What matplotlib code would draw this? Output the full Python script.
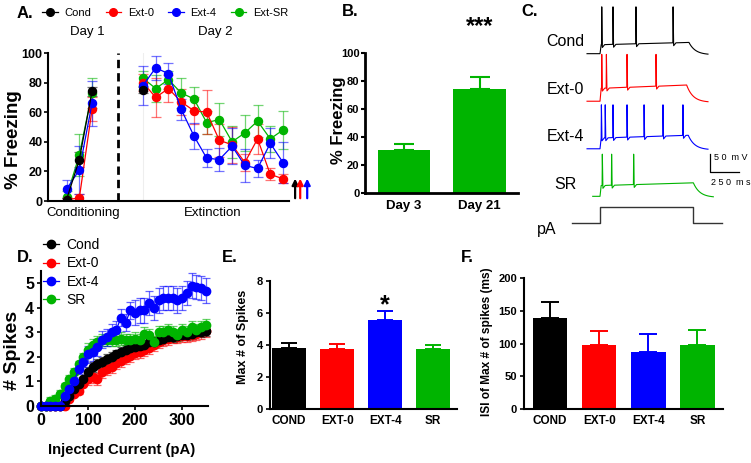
import numpy as np
import matplotlib as mp
mp.use('Agg')
import matplotlib.pyplot as plt
from matplotlib.lines import Line2D

plt.rcParams['font.family'] = ['Liberation Sans', 'DejaVu Sans']

W, H = 751, 463

groups = ['Cond', 'Ext-0', 'Ext-4', 'Ext-SR']
colors = ['black', '#ff0000', '#0000ff', '#00b400']

# ---- A: % freezing per trial
cond_trials = [1, 2, 3]
ext_trials = list(range(7, 19))
cond_vals = [[1, 28, 74], [1, 2, 62], [8, 21, 66], [3, 31, 73]]
cond_errs = [[1, 5, 3], [1, 3, 8], [6, 16, 15], [4, 14, 10]]
ext_vals = [[75],
            [80, 70, 76, 67, 61, 60, 41, 38, 26, 42, 18, 15],
            [78, 90, 86, 62, 44, 29, 28, 37, 24, 22, 39, 26],
            [83, 76, 82, 73, 69, 53, 55, 40, 46, 54, 42, 48]]
ext_errs = [[2],
            [6, 13, 9, 9, 9, 15, 11, 12, 6, 10, 4, 3],
            [13, 8, 7, 7, 9, 6, 8, 12, 11, 6, 10, 14],
            [5, 9, 6, 10, 8, 8, 11, 11, 12, 11, 9, 13]]

# ---- B: spontaneous recovery
b_days = ['Day 3', 'Day 21']
b_vals = [31, 74]
b_errs = [4, 9]

# ---- C: example traces (spike times in ms after step onset)
c_names = ['Cond', 'Ext-0', 'Ext-4', 'SR']
c_spikes = [[15, 112, 310, 630], [15, 55, 233, 483],
            [12, 45, 112, 233, 380, 543, 715], [20, 100, 290]]
c_plateau = [25, 36, 30, 30]
c_peak = [130, 130, 122, 117]
c_start = [-112, -112, -112, -63]
c_off = [767, 747, 761, 805]
c_stop = [931, 931, 931, 977]
pa_times = [-241, 0, 0, 805, 805, 1052]
pa_level = [0, 0, 1, 1, 0, 0]

# ---- D: spikes vs injected current
current = list(range(0, 360, 10))
d_names = ['Cond', 'Ext-0', 'Ext-4', 'SR']
d_cond = [0, 0, 0, 0, 0, 0.2, 0.4, 0.7, 0.9, 1.1, 1.4, 1.6, 1.7, 1.8, 1.9, 2.0, 2.1, 2.2,
          2.3, 2.35, 2.4, 2.45, 2.5, 2.6, 2.6, 2.7, 2.75, 2.8, 2.8, 2.85, 2.9, 2.9, 2.95, 3.0, 3.0, 3.05]
d_ext0 = [0, 0, 0, 0, 0, 0, 0.3, 0.5, 0.6, 0.9, 1.1, 1.2, 1.1, 1.4, 1.5, 1.6, 1.75, 1.85,
          1.95, 2.05, 2.15, 2.2, 2.3, 2.35, 2.5, 2.6, 2.7, 2.75, 2.8, 2.8, 2.85, 2.85, 2.9, 2.95, 3.0, 3.05]
d_ext4 = [0, 0, 0, 0, 0, 0.4, 0.7, 1.0, 1.5, 1.8, 2.1, 2.2, 2.4, 2.7, 2.8, 3.0, 3.1, 3.6,
          3.4, 3.9, 3.8, 3.9, 3.9, 4.2, 4.0, 4.3, 4.4, 4.4, 4.4, 4.3, 4.4, 4.6, 4.9, 4.85, 4.8, 4.7]
d_sr = [0, 0, 0.2, 0.3, 0.5, 0.8, 1.1, 1.4, 1.7, 2.0, 2.3, 2.5, 2.6, 2.7, 2.7, 2.7, 2.7, 2.75,
        2.7, 2.7, 2.75, 2.7, 2.95, 2.9, 2.6, 3.0, 3.0, 3.1, 3.0, 2.9, 3.1, 3.0, 3.2, 3.1, 3.2, 3.3]
d_cond_err = [0] * 5 + [0.1] * 5 + [0.2] * 26
d_ext0_err = [0] * 5 + [0.1] * 5 + [0.25] * 26
d_ext4_err = [0] * 5 + [0.2] * 5 + [0.35] * 10 + [0.5] * 16
d_sr_err = [0] * 2 + [0.15] * 8 + [0.25] * 26

# ---- E / F: max spikes and ISI
ef_labels = ['COND', 'EXT-0', 'EXT-4', 'SR']
e_vals = [3.8, 3.73, 5.56, 3.73]
e_errs = [0.33, 0.32, 0.55, 0.3]
f_vals = [139, 97, 87, 97]
f_errs = [25, 22, 27, 24]


fig = plt.figure(figsize=(7.51, 4.63), dpi=100)


def rect(l, t, r, b):
    return [l / W, 1 - b / H, (r - l) / W, (b - t) / H]


def ftext(x, y, s, **kw):
    kw.setdefault('ha', 'center')
    kw.setdefault('va', 'center')
    fig.text(x / W, 1 - y / H, s, **kw)


def bold_ticks(ax):
    for lab in ax.get_xticklabels() + ax.get_yticklabels():
        lab.set_fontweight('bold')


def style(ax, lw=1.5):
    ax.spines['top'].set_visible(False)
    ax.spines['right'].set_visible(False)
    ax.spines['left'].set_linewidth(lw)
    ax.spines['bottom'].set_linewidth(lw)


def light(eb, a=0.55):
    for art in list(eb[1]) + list(eb[2]):
        art.set_alpha(a)


# ================= A
axA = fig.add_axes(rect(48, 53, 289, 201))
style(axA)
axA.axvline(ext_trials[0], color='#eeeeee', lw=0.8, zorder=0)
for i in [3, 1, 2, 0]:
    c = colors[i]
    eb = axA.errorbar(cond_trials, cond_vals[i], yerr=cond_errs[i], color=c, marker='o',
                      ms=5.8, lw=0.9, elinewidth=0.9, capsize=3.6, capthick=0.9)
    light(eb)
    xs = ext_trials[:len(ext_vals[i])]
    eb = axA.errorbar(xs, ext_vals[i], yerr=ext_errs[i], color=c, marker='o',
                      ms=5.8, lw=0.9, elinewidth=0.9, capsize=3.6, capthick=0.9)
    light(eb)
mid = (cond_trials[-1] + ext_trials[0]) / 2
axA.plot([mid, mid], [0, 100], color='black', lw=2, dashes=(3, 1.8))
for k, (dx, c) in enumerate(zip([0.95, 1.35, 1.9], ['black', '#ff0000', '#0000ff'])):
    x = ext_trials[-1] + dx
    axA.annotate('', xy=(x, 17), xytext=(x, 0), annotation_clip=False,
                 arrowprops=dict(arrowstyle='-|>', color=c, lw=1.6, mutation_scale=9))
axA.set_xlim(-0.46, 18.47)
axA.set_ylim(0, 100)
axA.set_xticks([])
axA.set_yticks([0, 20, 40, 60, 80, 100])
axA.tick_params(axis='y', labelsize=9, length=3, width=1.2, pad=1)
bold_ticks(axA)
ftext(14, 140, '% Freezing', rotation=90, fontsize=13.5, fontweight='bold')
ftext(87, 32, 'Day 1', fontsize=9.5)
ftext(215, 32, 'Day 2', fontsize=9.5)
ftext(83, 213, 'Conditioning', fontsize=9.5)
ftext(213, 213, 'Extinction', fontsize=9.5)
ftext(25, 13, 'A.', fontsize=12, fontweight='bold')
hA = [Line2D([0], [0], color=c, marker='o', ms=5.5, lw=0.9) for c in colors]
fig.legend(hA, groups, loc='center left', bbox_to_anchor=(42 / W, 1 - 13 / H),
           ncol=4, frameon=False, fontsize=8, handlelength=1.4, handletextpad=0.6,
           columnspacing=1.3, borderpad=0, borderaxespad=0)

# ================= B
green = colors[3]
axB = fig.add_axes(rect(365, 53, 518, 193))
style(axB, 2)
axB.bar([0, 1], b_vals, width=0.69, color=green, yerr=[[0, 0], b_errs],
        error_kw=dict(ecolor=green, capsize=7.2, elinewidth=1.5, capthick=1.5))
axB.set_xlim(-0.517, 1.51)
axB.set_ylim(0, 100)
axB.set_xticks([0, 1])
axB.set_xticklabels(b_days, fontsize=9.5)
axB.set_yticks([0, 20, 40, 60, 80, 100])
axB.tick_params(axis='y', labelsize=8, length=3, width=1.5, pad=1)
axB.tick_params(axis='x', length=0, pad=5)
bold_ticks(axB)
axB.text(1, 119, '***', ha='center', va='center', fontsize=17, fontweight='bold', clip_on=False)
ftext(338, 120, '% Freezing', rotation=90, fontsize=12, fontweight='bold')
ftext(350, 12, 'B.', fontsize=12, fontweight='bold')

# ================= C
axC = fig.add_axes(rect(520, 0, 751, 250))
axC.set_axis_off()
axC.set_xlim(-690, 1302)
axC.set_ylim(0, 694)


def make_trace(spikes, plat, peak, t_start, t_off, t_stop):
    t = [t_start, 0, 10]
    v = [0, 0, plat]
    for s in spikes:
        p = plat * (1 + 0.25 * s / t_off)
        t += [s - 2, s, s + 5, s + 25]
        v += [p, peak, p - 8, p]
    pe = plat * 1.25
    t.append(t_off)
    v.append(pe)
    td = np.linspace(t_off, t_stop, 40)
    t += list(td)
    v += list(pe * np.exp(-(td - t_off) / 55) - 3 * (1 - np.exp(-(td - t_off) / 55)))
    return np.array(t), np.array(v)


c_cols = ['black', '#ff0000', '#0000ff', '#00b400']
for i, name in enumerate(c_names):
    base = 545 - 132 * i
    t, v = make_trace(c_spikes[i], c_plateau[i], c_peak[i], c_start[i], c_off[i], c_stop[i])
    axC.plot(t, base + v, color=c_cols[i], lw=0.8)
    axC.text(-300, base + 33, name, ha='center', va='center', fontsize=11.5)
axC.plot(pa_times, 75 + 45 * np.array(pa_level), color='#333333', lw=1)
axC.text(-457, 56, 'pA', ha='center', va='center', fontsize=11.5)
axC.plot([948, 948, 1198], [267, 217, 217], color='black', lw=0.9)
axC.text(985, 256, '5 0  m V', ha='left', va='center', fontsize=6.5)
axC.text(960, 186, '2 5 0  m s', ha='left', va='center', fontsize=6.5)
ftext(530, 12, 'C.', fontsize=12, fontweight='bold')

# ================= D
axD = fig.add_axes(rect(41, 271, 208, 406))
style(axD, 1.5)
d_series = [d_cond, d_ext0, d_ext4, d_sr]
d_err = [d_cond_err, d_ext0_err, d_ext4_err, d_sr_err]
for i in [1, 0, 3, 2]:
    eb = axD.errorbar(current, d_series[i], yerr=d_err[i], color=colors[i], marker='o', ms=6,
                      lw=0.9, elinewidth=0.9, capsize=2.9, capthick=0.9, clip_on=False)
    light(eb, 0.6)
axD.set_xlim(0, 355)
axD.set_ylim(0, 5.5)
axD.set_xticks([0, 100, 200, 300])
axD.set_yticks([0, 1, 2, 3, 4, 5])
axD.tick_params(labelsize=11.5, length=3, width=1.2, pad=2)
bold_ticks(axD)
ftext(13, 350, '# Spikes', rotation=90, fontsize=14, fontweight='bold')
ftext(122, 450, 'Injected Current (pA)', fontsize=10.7, fontweight='bold')
ftext(25, 257, 'D.', fontsize=12, fontweight='bold')
hD = [Line2D([0], [0], color=c, marker='o', ms=6, lw=0.9) for c in colors]
axD.legend(hD, d_names, loc='upper left', bbox_to_anchor=(43 / W, 1 - 238 / H),
           bbox_transform=fig.transFigure, frameon=False, fontsize=10, handlelength=1.15,
           handletextpad=0.55, labelspacing=0.32, borderpad=0, borderaxespad=0)

# ================= E
axE = fig.add_axes(rect(270, 281, 457, 409))
style(axE, 1.5)
for i in range(4):
    axE.bar(i, e_vals[i], width=0.7, color=colors[i], yerr=[[0], [e_errs[i]]],
            error_kw=dict(ecolor=colors[i], capsize=5.6, elinewidth=1.4, capthick=1.4))
axE.set_xlim(-0.4, 3.5)
axE.set_ylim(0, 8)
axE.set_xticks(range(4))
axE.set_xticklabels(ef_labels, fontsize=8.5)
axE.set_yticks([0, 2, 4, 6, 8])
axE.tick_params(axis='y', labelsize=8, length=3, width=1.2, pad=2)
axE.tick_params(axis='x', length=0, pad=4)
bold_ticks(axE)
axE.text(2, 6.5, '*', ha='center', va='center', fontsize=18, fontweight='bold')
ftext(243, 337, 'Max # of Spikes', rotation=90, fontsize=9, fontweight='bold')
ftext(230, 257, 'E.', fontsize=12, fontweight='bold')

# ================= F
axF = fig.add_axes(rect(524, 278, 723, 409))
style(axF, 1.5)
for i in range(4):
    axF.bar(i, f_vals[i], width=0.7, color=colors[i], yerr=[[0], [f_errs[i]]],
            error_kw=dict(ecolor=colors[i], capsize=6.5, elinewidth=1.4, capthick=1.4))
axF.set_xlim(-0.53, 3.52)
axF.set_ylim(0, 200)
axF.set_xticks(range(4))
axF.set_xticklabels(ef_labels, fontsize=8.5)
axF.set_yticks([0, 50, 100, 150, 200])
axF.tick_params(axis='y', labelsize=8, length=3, width=1.2, pad=2)
axF.tick_params(axis='x', length=0, pad=4)
bold_ticks(axF)
ftext(487, 342, 'ISI of Max # of spikes (ms)', rotation=90, fontsize=8.6, fontweight='bold')
ftext(467, 257, 'F.', fontsize=12, fontweight='bold')

fig.savefig('out.png', dpi=100)
